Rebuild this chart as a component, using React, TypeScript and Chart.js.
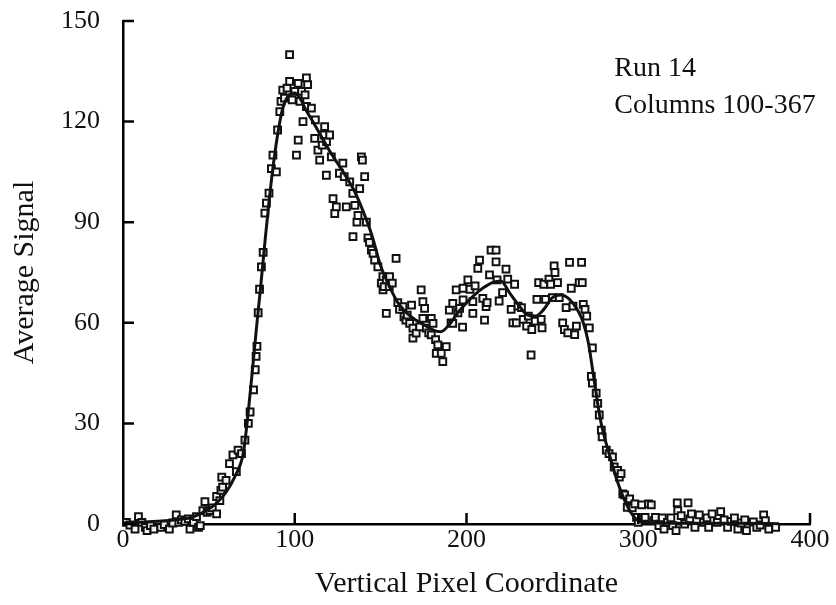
import React, { useEffect, useRef } from "react";
import { Chart, registerables } from "chart.js";

Chart.register(...registerables);

// Measured data points (pixel coordinate, average signal)
const scatterX = [
  2, 4, 5, 7, 8, 9, 11, 13, 14, 16, 18, 20, 22, 24, 26, 27, 29, 31, 32.5, 34, 36, 38, 39, 41, 42.8, 44, 45, 46.5, 47.7, 49,
  50.6, 52, 54.5, 54.5, 56.4, 57, 57.5, 58, 60, 62, 64, 66, 67, 69, 71, 73, 74, 76, 77, 77.5, 78, 78.7, 79.5, 80.6, 81.6,
  82.6, 83.5, 85, 86.4, 87.3, 89.3, 90, 91.3, 92, 93, 94, 95.5, 97, 97, 98.5, 100, 101, 102, 102, 103, 104, 104.8, 106,
  106.8, 106.8, 107.5, 109.7, 111.6, 112, 113.5, 114.5, 116, 117, 117.4, 118.4, 118.5, 120.3, 121.3, 122.3, 123.3, 124.2,
  126, 128, 128.8, 130, 132, 133.8, 133.9, 135, 136.2, 136.8, 137.8, 138.8, 139.4, 140.7, 141.7, 142.6, 143.5, 144.6,
  145.6, 146.5, 148.4, 150.4, 151.3, 151.4, 152, 153.3, 153.3, 155, 155.2, 156.8, 159, 160, 161, 163, 163.6, 164.7, 165.5,
  166.9, 168, 168.8, 168.8, 170.7, 172.7, 173.6, 174.6, 174.6, 175.6, 176.6, 178, 179.5, 179.5, 180.5, 182, 182.4, 183.3,
  185.3, 186.2, 188.2, 190, 191, 192, 192, 194, 195, 196, 197.7, 198, 198, 200.8, 202, 203.7, 203.7, 205, 206.6, 207.6,
  209.5, 210.5, 211.4, 212, 213.4, 214.3, 217.2, 217.2, 217.8, 219, 221, 223, 224, 226, 227, 228, 229, 230, 232, 233, 235,
  236, 237.6, 238, 240, 241, 242, 243.5, 244, 245, 246, 248, 249, 250, 251, 251.5, 253, 254, 256, 257, 258, 259, 260, 261,
  262, 263, 264, 265.6, 267, 267.4, 268, 269, 270, 271.5, 273.3, 272.7, 273.3, 275.5, 276.4, 277.3, 278.5, 279, 281.4, 283,
  285, 286, 288, 289, 290, 291, 292, 293.6, 295, 296.5, 298, 299, 300, 302, 304, 306, 307.6, 309, 310, 312, 314, 315, 317,
  319, 320, 322, 322.7, 323, 325, 327, 329, 330, 331, 333, 335.5, 336, 338, 340, 341, 343, 345, 346, 348, 350, 352, 354,
  356, 358, 360, 362, 363, 365, 367, 369, 371, 373, 374, 376, 378, 380, 382,
];
const scatterY = [
  0.5, -0.3, -2.5, -1.5, -2.7, 2.2, 0.5, -1, -2, -0.5, -1.5, -2.5, -1, -0.2, -2.8, -1.5, 0.3, 2.7, 0.5, 1.2, 0.8, 1.5, -1.5,
  0.5, 2.2, -1, -0.5, 4, 6.7, 3.5, 4, 4.8, 3, 8.2, 7, 10, 14, 11, 13, 18, 20.6, 15.6, 22, 21, 25, 30, 33.4, 40, 46, 50, 53,
  63, 70, 76.7, 81, 92.7, 95.7, 98.7, 106, 110, 105, 117.5, 123, 126, 129.4, 127, 130, 140, 132, 126.5, 129, 110, 131.4,
  114.5, 126, 129, 120, 128, 133, 124.5, 131, 124, 115, 120.5, 111.5, 108.5, 113, 116, 118.5, 104, 114, 116, 109.5, 97,
  92.6, 94.6, 104.6, 107.6, 103.6, 94.6, 102, 98.6, 85.7, 95, 90, 92, 100, 109.5, 108.5, 103.6, 90, 85.3, 84, 81.7, 80.7,
  78.7, 76.7, 71.8, 73.8, 69.8, 70.8, 72.8, 62.8, 70.8, 73.8, 71.8, 79.2, 66, 64, 64.8, 61.8, 60.8, 62.3, 59.8, 65.3, 58.4,
  55.4, 56.9, 58.8, 69.8, 66.3, 61.3, 64.3, 58.4, 57, 61.3, 56.4, 59.8, 55, 50.9, 53.4, 50.9, 48.4, 52.9, 63.8, 60, 65.8,
  59.8, 69.8, 63, 64.3, 58.7, 70.3, 66.8, 72.8, 70, 66.3, 62.8, 71, 76.2, 78.7, 67.3, 60.8, 64.8, 66, 74.3, 81.7, 81.7,
  78.2, 72.8, 66.5, 69, 76, 73, 64, 60, 71.5, 60, 65, 64.5, 61, 59, 62, 50.4, 58, 60.5, 67, 72, 61, 58.5, 71.5, 67, 73,
  71.5, 67.5, 77, 75, 72, 67.5, 60, 58, 64.5, 57, 78, 70.3, 65, 56.5, 59, 72, 78, 72, 65.5, 64, 62, 58.5, 52.5, 44, 42, 39,
  36, 32.5, 28, 26, 22, 21, 20, 17, 16, 14, 15, 9, 8.7, 5, 7.5, 4.8, 6, 2, 0.5, 5.7, 2, 6, 5.7, 1, 2, -0.5, 1.8, -1.5, 0.5,
  1.8, -0.5, -2, 6.3, 4, 2.5, 0, 6.3, 1.5, 3, -1, 2.7, -4, 0.5, 1.8, -1, 3, -4, 0.5, 3.7, 1.2, -1, 0.8, 1.8, -1.5, 0.3, 1.2,
  -2, -3.5, 0.6, -1, -0.3, 2.7, 1, -1.5, -3.5, -1, -3.5,
];

// Smooth fitted curve
const fitX = [
  0, 10, 20, 30, 40, 50, 55, 60, 65, 70, 72, 75, 78, 80, 83, 85, 87, 90, 93, 96, 100, 103, 107, 110, 115, 120, 125, 130,
  135, 140, 145, 150, 155, 160, 165, 170, 175, 180, 185, 190, 195, 200, 205, 210, 215, 220, 225, 230, 235, 240, 245, 250,
  255, 260, 265, 268, 271, 274, 278, 283, 289, 295, 300, 305, 310, 320, 340, 360, 382,
];
const fitY = [
  0.3, 0.5, 0.8, 1.2, 2, 4.5, 6.5, 9.5, 14, 21, 29, 44, 60, 70, 86, 96, 105, 116, 124, 127.5, 128.5, 127, 123, 120.5, 116,
  111.5, 107.5, 103.5, 99, 93, 86, 77, 71, 66, 63, 61, 59.5, 58, 57.3, 59.5, 63, 66, 68.5, 70.5, 72, 72.5, 69, 65.5, 62.5,
  62, 64, 67.5, 68.3, 67, 63.5, 60, 54, 44, 31, 21, 11, 4, 1, 0.5, 0.3, 0.2, 0.2, 0.2, 0.1,
];

const xTicks = [0, 100, 200, 300, 400];
const yTicks = [0, 30, 60, 90, 120, 150];
const xTitle = "Vertical Pixel Coordinate";
const yTitle = "Average Signal";
const noteLines = ["Run 14", "Columns 100-367"];
const noteAnchor = { x: 286, y: [133.5, 122.5] };

const FONT = "'Liberation Serif', 'Times New Roman', serif";

const inwardTicks = {
  id: "inwardTicks",
  afterDraw(chart: any) {
    const { ctx, chartArea, scales } = chart;
    const xs = scales.x;
    const ys = scales.y;
    ctx.save();
    ctx.strokeStyle = "#000";
    ctx.lineWidth = 2.5;
    ctx.beginPath();
    for (const v of yTicks) {
      const py = ys.getPixelForValue(v);
      ctx.moveTo(chartArea.left, py);
      ctx.lineTo(chartArea.left + 11, py);
    }
    for (const v of xTicks) {
      if (v === 0) continue;
      const px = xs.getPixelForValue(v);
      ctx.moveTo(px, chartArea.bottom);
      ctx.lineTo(px, chartArea.bottom - 11);
    }
    ctx.stroke();
    // annotation text
    ctx.fillStyle = "#111";
    ctx.font = `28px ${FONT}`;
    ctx.textAlign = "left";
    ctx.textBaseline = "alphabetic";
    noteLines.forEach((t, i) => {
      ctx.fillText(t, xs.getPixelForValue(noteAnchor.x), ys.getPixelForValue(noteAnchor.y[i]));
    });
    ctx.restore();
  },
};

export default function App() {
  const ref = useRef<HTMLCanvasElement | null>(null);
  useEffect(() => {
    if (!ref.current) return;
    const chart = new Chart(ref.current, {
      type: "scatter",
      data: {
        datasets: [
          {
            label: "fit",
            data: fitX.map((x, i) => ({ x, y: fitY[i] })),
            showLine: true,
            borderColor: "#111",
            borderWidth: 3,
            pointRadius: 0,
            tension: 0.4,
            cubicInterpolationMode: "monotone",
            clip: false,
            order: 1,
          } as any,
          {
            label: "data",
            data: scatterX.map((x, i) => ({ x, y: scatterY[i] })),
            showLine: false,
            pointStyle: "rect",
            pointRadius: 4.8,
            pointBorderWidth: 2,
            pointBorderColor: "#111",
            pointBackgroundColor: "rgba(255,255,255,0.9)",
            clip: false,
            order: 2,
          } as any,
        ],
      },
      options: {
        animation: false,
        responsive: true,
        maintainAspectRatio: false,
        layout: { padding: { left: 0, right: 26, top: 21, bottom: 0 } },
        plugins: { legend: { display: false }, tooltip: { enabled: false } },
        scales: {
          x: {
            type: "linear",
            min: 0,
            max: 400,
            afterBuildTicks: (s: any) => {
              s.ticks = xTicks.map((v) => ({ value: v }));
            },
            afterFit: (s: any) => {
              s.height = 81;
              s.paddingLeft = 0;
              s.paddingRight = 0;
            },
            grid: { display: false, drawTicks: false },
            border: { display: true, color: "#000", width: 2.5 },
            ticks: {
              color: "#111",
              font: { family: FONT, size: 26 },
              padding: 1,
              maxRotation: 0,
            },
            title: {
              display: true,
              text: xTitle,
              color: "#111",
              font: { family: FONT, size: 30 },
              padding: { top: 0, bottom: 3 },
            },
          },
          y: {
            type: "linear",
            min: 0,
            max: 150,
            afterBuildTicks: (s: any) => {
              s.ticks = yTicks.map((v) => ({ value: v }));
            },
            afterFit: (s: any) => {
              s.width = 123;
              s.paddingTop = 0;
              s.paddingBottom = 0;
            },
            grid: { display: false, drawTicks: false },
            border: { display: true, color: "#000", width: 2.5 },
            ticks: {
              color: "#111",
              font: { family: FONT, size: 26 },
              padding: 23,
            },
            title: {
              display: true,
              text: yTitle,
              color: "#111",
              font: { family: FONT, size: 30 },
              padding: { top: 7, bottom: 0 },
            },
          },
        },
      },
      plugins: [inwardTicks],
    });
    return () => chart.destroy();
  }, []);
  return (
    <div style={{ position: "fixed", left: 0, top: 0, width: 836, height: 605, background: "#fff" }}>
      <canvas ref={ref} />
    </div>
  );
}
